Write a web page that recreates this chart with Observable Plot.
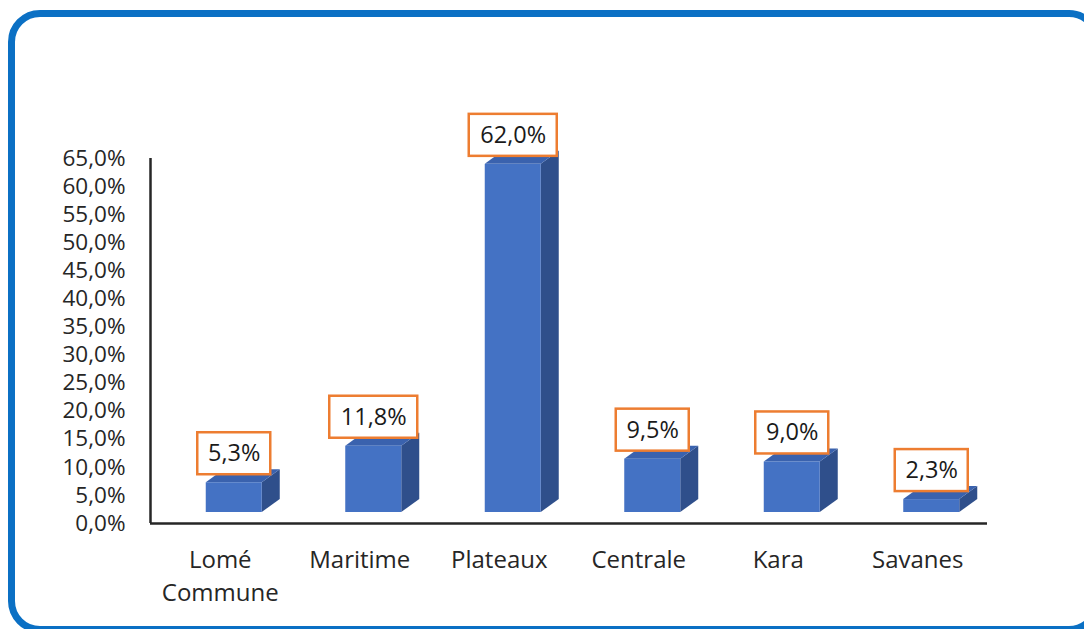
<!DOCTYPE html>
<html>
<head>
<meta charset="utf-8">
<script src="https://cdn.jsdelivr.net/npm/d3@7"></script>
<script src="https://cdn.jsdelivr.net/npm/@observablehq/plot@0.6"></script>
<style>
  html, body { margin: 0; padding: 0; background: #fff; overflow: hidden; }
  #wrap { position: relative; width: 1084px; height: 629px; overflow: hidden; }
  #frame { position: absolute; left: 8px; top: 10px; width: 1079px; height: 609px;
           border: 7px solid #0B70C4; border-radius: 32px; box-sizing: content-box; }
  #chart { position: absolute; left: 0; top: 0; }
</style>
</head>
<body>
<div id="wrap"><div id="frame"></div><div id="chart"></div></div>
<script>
// ---- data ----
const categories = ["Lomé\nCommune", "Maritime", "Plateaux", "Centrale", "Kara", "Savanes"];
const values = [5.3, 11.8, 62.0, 9.5, 9.0, 2.3];
const yTicks = [0, 5, 10, 15, 20, 25, 30, 35, 40, 45, 50, 55, 60, 65];

// ---- layout ----
const W = 1084, H = 629;
const mL = 150, mR = 97, mT = 158, mB = 106;
const xDomain = [-0.5, categories.length - 0.5];
const yDomain = [0, 65];
const pxX = (W - mL - mR) / (xDomain[1] - xDomain[0]);   // px per x unit
const pxY = (H - mT - mB) / (yDomain[1] - yDomain[0]);   // px per y unit
const half = 28 / pxX;          // half width of front face
const depthX = 18 / pxX;        // 3D depth
const depthY = 13 / pxY;
const offX = 14, offY = -11;    // bar offset from category/axis

const fmt = d => d.toFixed(1).replace(".", ",") + "%";
const bars = values.map((v, i) => ({i, v, label: fmt(v)}));

const sideFaces = bars.flatMap(d => [
  {i: d.i, x: d.i + half, y1: 0, y2: d.v},
  {i: d.i, x: d.i + half + depthX, y1: depthY, y2: d.v + depthY}
]);
const topFaces = bars.flatMap(d => [
  {i: d.i, y: d.v, x1: d.i - half, x2: d.i + half},
  {i: d.i, y: d.v + depthY, x1: d.i - half + depthX, x2: d.i + half + depthX}
]);

const boxW = d => (d.label.length > 4 ? 88 : 73) / 2 / pxX;
const boxH = 21 / pxY;

const font = "'Open Sans', sans-serif";

const chart = Plot.plot({
  width: W, height: H,
  marginLeft: mL, marginRight: mR, marginTop: mT, marginBottom: mB,
  style: {fontFamily: font, background: "transparent", color: "#1a1a1a"},
  x: {type: "linear", domain: xDomain},
  y: {domain: yDomain},
  marks: [
    Plot.axisY({ticks: yTicks, tickFormat: fmt, tickSize: 0, tickPadding: 25, fontSize: 22.5, fill: "#262626", label: null}),
    Plot.axisX({ticks: d3.range(categories.length), tickFormat: i => categories[i], tickSize: 0, tickPadding: 21, fontSize: 24, lineHeight: 1.38, fill: "#262626", label: null}),
    Plot.areaY(sideFaces, {x: "x", y1: "y1", y2: "y2", z: "i", fill: "#2F4F8B", dx: offX, dy: offY}),
    Plot.areaX(topFaces, {y: "y", x1: "x1", x2: "x2", z: "i", fill: "#3A62AE", dx: offX, dy: offY}),
    Plot.rect(bars, {x1: d => d.i - half, x2: d => d.i + half, y1: 0, y2: "v", fill: "#4472C4", dx: offX, dy: offY}),
    Plot.ruleX([xDomain[0]], {y1: yDomain[0], y2: yDomain[1], stroke: "#262626", strokeWidth: 2.5}),
    Plot.ruleY([0], {stroke: "#262626", strokeWidth: 2.5}),
    Plot.rect(bars, {x1: d => d.i - boxW(d), x2: d => d.i + boxW(d), y1: d => d.v - boxH, y2: d => d.v + boxH,
      fill: "white", stroke: "#ED7D31", strokeWidth: 2.5, dx: offX, dy: -40}),
    Plot.text(bars, {x: "i", y: "v", text: "label", fontSize: 23.5, fill: "#1a1a1a", dx: offX, dy: -40})
  ]
});
document.getElementById("chart").appendChild(chart);
</script>
</body>
</html>
